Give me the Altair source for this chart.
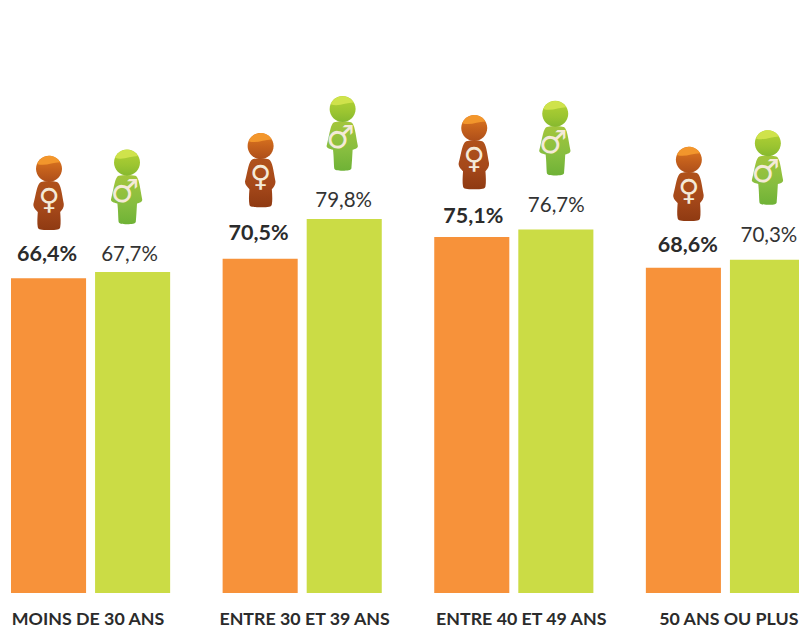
import altair as alt
import pandas as pd

groups = ["MOINS DE 30 ANS", "ENTRE 30 ET 39 ANS", "ENTRE 40 ET 49 ANS", "50 ANS OU PLUS"]
women_labels = ["66,4%", "70,5%", "75,1%", "68,6%"]
men_labels = ["67,7%", "79,8%", "76,7%", "70,3%"]
# bar heights as drawn in the picture
women_bars = [66.4, 70.5, 75.1, 68.6]
men_bars = [67.7, 78.9, 76.7, 70.3]
# height of each value label, on the bar scale
women_label_level = [71.3, 75.7, 79.3, 73.2]
men_label_level = [71.3, 82.7, 81.6, 75.3]
# height of each head, on the bar scale
women_head_level = [89.5, 94.3, 98.1, 91.4]
men_head_level = [90.8, 102.1, 101.1, 94.9]
# sideways shift from the left edge of the group
women_shift = [38, 38, 40, 43]
men_shift = [116, 120, 121, 122]
women_label_shift = [36, 36, 39, 42]
men_label_shift = [118.5, 121, 122, 123]
group_label_shift = [77, 82, 87, 83]

rows = []
for i, g in enumerate(groups):
    rows.append(dict(group=g, sex="F", bar=women_bars[i], label=women_labels[i],
                     level=women_label_level[i], head=women_head_level[i],
                     shift=women_shift[i], lshift=women_label_shift[i], gshift=group_label_shift[i]))
    rows.append(dict(group=g, sex="H", bar=men_bars[i], label=men_labels[i],
                     level=men_label_level[i], head=men_head_level[i],
                     shift=men_shift[i], lshift=men_label_shift[i], gshift=group_label_shift[i]))
df = pd.DataFrame(rows)

W, H = 791, 619
xscale = alt.Scale(domain=groups, range=[3, 797], paddingInner=0.248, paddingOuter=0)
x = alt.X("group:N", sort=groups, axis=None, scale=xscale)
yscale = alt.Scale(domain=[0, 123.42], range=[585, 0], nice=False, zero=False)
pxoff = alt.Scale(domain=[0, 200], range=[0, 200], nice=False, zero=False)


def off(field):
    return alt.XOffset(f"{field}:Q", scale=pxoff)


def yy(field):
    return alt.Y(f"{field}:Q", scale=yscale, axis=None)


base = alt.Chart(df)

bars = base.mark_bar(cornerRadius=0).encode(
    x=x,
    xOffset=alt.XOffset("sex:N", scale=alt.Scale(domain=["F", "H"], paddingInner=0.107, paddingOuter=0)),
    y=yy("bar"),
    y2=alt.Y2(datum=0),
    color=alt.Color("sex:N", scale=alt.Scale(domain=["F", "H"], range=["#f7923a", "#cbdc45"]), legend=None),
)


def grad(stops, x1=0, y1=0, x2=0, y2=1):
    return alt.LinearGradient(
        gradient="linear", x1=x1, y1=y1, x2=x2, y2=y2,
        stops=[alt.GradientStop(offset=o, color=c) for o, c in stops],
    )


head_path = "M0,-0.325A0.325,0.325 0 1 1 0,0.325A0.325,0.325 0 1 1 0,-0.325Z"
gloss_path = "M-0.3,-0.12A0.325,0.325 0 0 1 0.28,-0.165C0.1,-0.17 -0.1,-0.05 -0.3,-0.12Z"
body_f = ("M-0.2,0.33C-0.08,0.3 0.08,0.3 0.2,0.33C0.3,0.38 0.32,0.62 0.37,0.88C0.38,0.96 0.33,1.03 0.28,1.08"
          "C0.29,1.22 0.3,1.36 0.28,1.46C0.27,1.52 0.2,1.53 0,1.53C-0.2,1.53 -0.27,1.52 -0.28,1.46"
          "C-0.3,1.36 -0.29,1.22 -0.28,1.08C-0.33,1.03 -0.4,0.96 -0.39,0.88C-0.32,0.62 -0.3,0.38 -0.2,0.33Z")
body_m = ("M-0.21,0.33C-0.08,0.3 0.08,0.3 0.21,0.33C0.3,0.36 0.32,0.6 0.38,0.92C0.39,0.97 0.33,1.0 0.25,1.02"
          "C0.24,1.2 0.23,1.38 0.22,1.48C0.21,1.53 0.12,1.54 0,1.54C-0.12,1.54 -0.2,1.53 -0.21,1.48"
          "C-0.22,1.38 -0.22,1.2 -0.24,1.02C-0.33,1.0 -0.41,0.97 -0.4,0.92C-0.32,0.6 -0.3,0.36 -0.21,0.33Z")
SIZE = 6400


def icon(sex, body_shape, body_fill, head_fill, gloss, glyph, glyph_size, glyph_dx, glyph_dy):
    d = base.transform_filter(alt.datum.sex == sex)
    enc = dict(x=x, xOffset=off("shift"), y=yy("head"))
    layers = [
        d.mark_point(shape=body_shape, size=SIZE, filled=True, fill=body_fill, opacity=1, strokeWidth=0).encode(**enc),
        d.mark_point(shape=head_path, size=SIZE, filled=True, fill=head_fill, opacity=1, strokeWidth=0).encode(**enc),
        d.mark_point(shape=gloss_path, size=SIZE, filled=True, fill=gloss, opacity=0.9, strokeWidth=0).encode(**enc),
        d.mark_text(text=glyph, font="DejaVu Sans", fontSize=glyph_size, fontWeight="bold", color="#f4ead8",
                    baseline="middle", align="center", dx=glyph_dx, dy=glyph_dy).encode(**enc),
    ]
    return layers


women_icon = icon(
    "F", body_f,
    grad([(0, "#b0521b"), (0.55, "#a5481a"), (1, "#8f3a12")]),
    grad([(0, "#e07a20"), (0.55, "#c4601c"), (1, "#ae4f1a")]),
    "#f59a2e", "\u2640", 29, 0, 31,
)
men_icon = icon(
    "H", body_m,
    grad([(0, "#a4c63c"), (0.6, "#86bd3f"), (1, "#6fb236")]),
    grad([(0, "#b4d234"), (0.6, "#9cc531"), (1, "#86b92f")]),
    "#d3e44e", "\u2642", 32, -2, 29,
)

value_f = base.transform_filter(alt.datum.sex == "F").mark_text(
    font="Lato", fontSize=21.5, fontWeight="bold", color="#2b2b2b", baseline="middle", align="center"
).encode(x=x, xOffset=off("lshift"), y=yy("level"), text="label:N")
value_m = base.transform_filter(alt.datum.sex == "H").mark_text(
    font="Lato", fontSize=20.5, fontWeight=400, color="#333333", baseline="middle", align="center"
).encode(x=x, xOffset=off("lshift"), y=yy("level"), text="label:N")

group_labels = base.transform_filter(alt.datum.sex == "F").mark_text(
    font="Lato", fontSize=17.8, fontWeight="bold", color="#2b2b2b", baseline="middle", align="center"
).encode(x=x, xOffset=off("gshift"), y=alt.value(611.5), text="group:N")

chart = alt.layer(
    bars, *women_icon, *men_icon, value_f, value_m, group_labels
).resolve_scale(xOffset="independent").properties(
    width=W, height=H, padding=0, background="#ffffff",
    autosize=alt.AutoSizeParams(type="none", contains="padding"),
).configure_view(stroke=None)

chart.save("out.html", embed_options={"renderer": "svg", "actions": False})
